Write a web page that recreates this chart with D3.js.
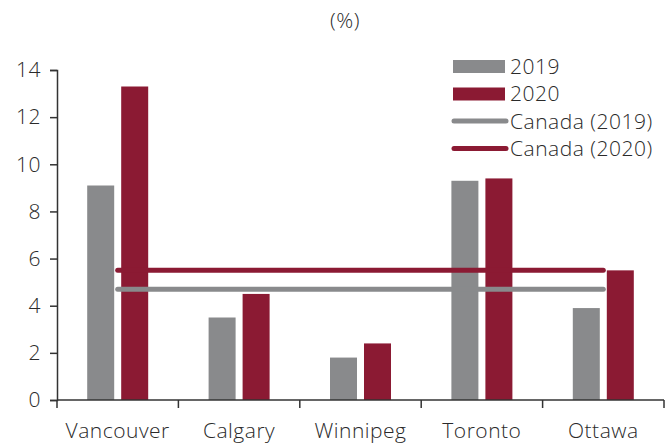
<!DOCTYPE html>
<html>
<head>
<meta charset="utf-8">
<script src="https://cdn.jsdelivr.net/npm/d3@7"></script>
<style>
  body { margin: 0; background: #fff; }
  text { font-family: "Open Sans", sans-serif; fill: #2a2a2a; letter-spacing: 0.5px; }
</style>
</head>
<body>
<script>
// chart data
const cities = ["Vancouver", "Calgary", "Winnipeg", "Toronto", "Ottawa"];
const values2019 = [9.1, 3.5, 1.8, 9.3, 3.9];
const values2020 = [13.3, 4.5, 2.4, 9.4, 5.5];
const canada2019 = [4.7, 4.7, 4.7, 4.7, 4.7];
const canada2020 = [5.5, 5.5, 5.5, 5.5, 5.5];
const yTicks = [0, 2, 4, 6, 8, 10, 12, 14];

const grey = "#898a8c";
const red = "#8b1a33";
const fontSize = "21px";

const width = 667, height = 445;
const margin = { top: 70, right: 3, bottom: 45, left: 57 };

const svg = d3.select("body").append("svg")
    .attr("width", width)
    .attr("height", height);

const x = d3.scaleBand()
    .domain(cities)
    .range([margin.left, width - margin.right]);

const y = d3.scaleLinear()
    .domain([0, 14])
    .range([height - margin.bottom, margin.top]);

const barW = 27, gap = 7;

// bars
const series = [
    { vals: values2019, color: grey, off: -barW - gap / 2 },
    { vals: values2020, color: red, off: gap / 2 }
];
series.forEach(s => {
    svg.append("g").selectAll("rect")
        .data(cities)
        .enter()
        .append("rect")
        .attr("x", (d, i) => x(d) + x.bandwidth() / 2 + s.off)
        .attr("y", (d, i) => y(s.vals[i]))
        .attr("width", barW)
        .attr("height", (d, i) => y(0) - y(s.vals[i]))
        .attr("fill", s.color);
});

// Canada average lines
const line = d3.line()
    .x((d, i) => x(cities[i]) + x.bandwidth() / 2)
    .y(d => y(d));

[[canada2019, grey], [canada2020, red]].forEach(([vals, color]) => {
    svg.append("path")
        .attr("d", line(vals))
        .attr("fill", "none")
        .attr("stroke", color)
        .attr("stroke-width", 5)
        .attr("stroke-linecap", "round");
});

// y axis
const yAxis = svg.append("g")
    .attr("transform", `translate(${margin.left},0)`)
    .call(d3.axisLeft(y).tickValues(yTicks).tickSize(7).tickPadding(9));
yAxis.select(".domain").attr("stroke", "#333").attr("stroke-width", 1.5);
yAxis.selectAll(".tick line").attr("stroke", "#333").attr("stroke-width", 1.5);
yAxis.selectAll("text").style("font-size", fontSize).style("font-weight", 300).attr("fill", "#2a2a2a");

// x axis with ticks between categories
const xAxisY = y(0);
svg.append("line")
    .attr("x1", margin.left).attr("x2", width - margin.right)
    .attr("y1", xAxisY).attr("y2", xAxisY)
    .attr("stroke", "#333").attr("stroke-width", 1.5);
svg.append("g").selectAll("line")
    .data(cities.concat(["_end"]))
    .enter()
    .append("line")
    .attr("x1", (d, i) => margin.left + i * x.bandwidth())
    .attr("x2", (d, i) => margin.left + i * x.bandwidth())
    .attr("y1", xAxisY)
    .attr("y2", xAxisY + 8)
    .attr("stroke", "#333").attr("stroke-width", 1.5);
svg.append("g").selectAll("text")
    .data(cities)
    .enter()
    .append("text")
    .attr("x", d => x(d) + x.bandwidth() / 2)
    .attr("y", xAxisY + 38)
    .attr("text-anchor", "middle")
    .style("font-size", fontSize)
    .style("font-weight", 300)
    .text(d => d);

// title
svg.append("text")
    .attr("x", 345)
    .attr("y", 28)
    .attr("text-anchor", "middle")
    .style("font-size", fontSize)
    .style("font-weight", 300)
    .text("(%)");

// legend
const legend = [
    { label: "2019", color: grey, type: "rect" },
    { label: "2020", color: red, type: "rect" },
    { label: "Canada (2019)", color: grey, type: "line" },
    { label: "Canada (2020)", color: red, type: "line" }
];
const lg = svg.append("g").attr("transform", "translate(453,66)");
legend.forEach((d, i) => {
    const gy = i * 27.5;
    if (d.type === "rect") {
        lg.append("rect").attr("x", 0).attr("y", gy - 6).attr("width", 52).attr("height", 13).attr("fill", d.color);
    } else {
        lg.append("line").attr("x1", 1).attr("x2", 53).attr("y1", gy).attr("y2", gy)
            .attr("stroke", d.color).attr("stroke-width", 5).attr("stroke-linecap", "round");
    }
    lg.append("text")
        .attr("x", 57)
        .attr("y", gy + 7.5)
        .style("font-size", fontSize)
        .style("font-weight", 300)
        .text(d.label);
});
</script>
</body>
</html>
